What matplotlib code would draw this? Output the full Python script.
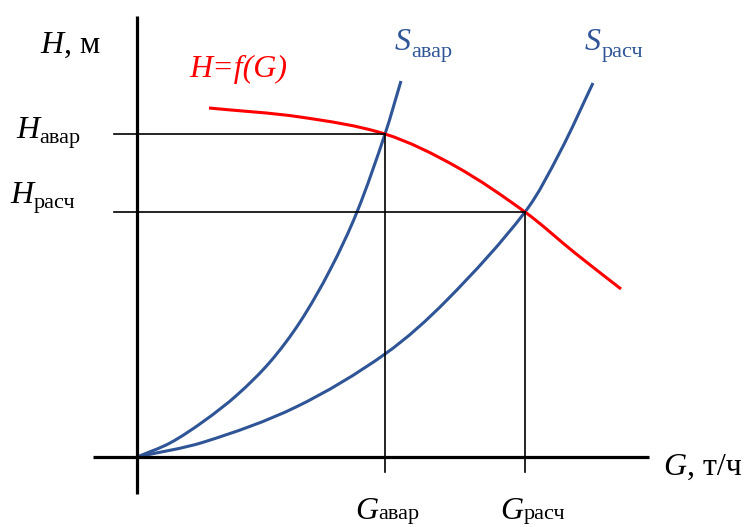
import numpy as np
import matplotlib.pyplot as plt
from matplotlib.path import Path
from matplotlib.patches import PathPatch

plt.rcParams['font.family'] = ['Liberation Serif', 'DejaVu Serif']

# pump curve H = f(G)
pump_G = [1.44, 3.26, 4.96, 6.36, 7.76, 8.76, 9.68]
pump_H = [8.725, 8.5, 8.075, 7.275, 6.125, 5.1, 4.2]

# network curve, emergency mode
avar_G = [0, 0.66, 1.34, 2.0, 2.66, 3.26, 3.86, 4.4, 4.96, 5.28]
avar_H = [0, 0.35, 0.9, 1.55, 2.375, 3.375, 4.675, 6.125, 8.075, 9.4]

# network curve, design mode
rasch_G = [0, 1.34, 3.18, 4.96, 6.2, 7.76, 8.46, 9.12]
rasch_H = [0, 0.375, 1.25, 2.575, 3.925, 6.125, 7.625, 9.35]

# operating points
G_avar, H_avar = 4.96, 8.075
G_rasch, H_rasch = 7.76, 6.125

red = '#ff0000'
blue = '#2f5597'

fig = plt.figure(figsize=(7.47, 5.27), dpi=100)
ax = fig.add_axes([0, 0, 1, 1])
ax.set_xlim(-2.74, 12.2)
ax.set_ylim(-1.75, 11.425)
ax.axis('off')


def smooth_curve(xs, ys, color):
    # bezier segments through the read points, tangents scaled by chord length
    p = np.column_stack([xs, ys]).astype(float)
    seg = np.hypot(np.diff(p[:, 0]) * 50, np.diff(p[:, 1]) * 40)
    t = np.concatenate([[0], np.cumsum(seg)])
    n = len(p)
    m = np.zeros_like(p)
    for i in range(n):
        a, b = max(i - 1, 0), min(i + 1, n - 1)
        m[i] = (p[b] - p[a]) / (t[b] - t[a])
    verts = [p[0]]
    codes = [Path.MOVETO]
    for i in range(n - 1):
        h = t[i + 1] - t[i]
        verts += [p[i] + m[i] * h / 3, p[i + 1] - m[i + 1] * h / 3, p[i + 1]]
        codes += [Path.CURVE4] * 3
    ax.add_patch(PathPatch(Path(verts, codes), fill=False, edgecolor=color,
                           lw=2.2, capstyle='butt'))


# axes of the diagram
ax.plot([0, 0], [-0.925, 11.025], color='black', lw=2.3, solid_capstyle='butt')
ax.plot([-0.88, 10.24], [0, 0], color='black', lw=2.3, solid_capstyle='butt')

# guide lines to the operating points
ax.plot([-0.46, G_avar], [H_avar, H_avar], color='black', lw=1.2)
ax.plot([-0.46, G_rasch], [H_rasch, H_rasch], color='black', lw=1.2)
ax.plot([G_avar, G_avar], [-0.375, H_avar], color='black', lw=1.2)
ax.plot([G_rasch, G_rasch], [-0.375, H_rasch], color='black', lw=1.2)

smooth_curve(avar_G, avar_H, blue)
smooth_curve(rasch_G, rasch_H, blue)
smooth_curve(pump_G, pump_H, red)


def label(x, y, main, sub, color='black', size=23, subsize=16, dy=-2.0):
    t = ax.text(x, y, main, color=color, fontsize=size, style='italic', va='baseline')
    ax.annotate(sub, xy=(1, 0), xycoords=t, xytext=(0.3, dy), textcoords='offset points',
                color=color, fontsize=subsize, va='bottom', ha='left')


label(-1.94, 10.1, 'H', ', м', subsize=23, dy=0)
ax.text(1.04, 9.5, 'H=f(G)', fontsize=23, style='italic', color=red, va='baseline')

label(-2.42, 7.975, 'H', 'авар')
label(-2.54, 6.35, 'H', 'расч')
label(5.16, 10.175, 'S', 'авар', color=blue, dy=-3.5)
label(8.96, 10.175, 'S', 'расч', color=blue, dy=-3.5)
label(4.36, -1.55, 'G', 'авар', dy=1.5)
label(7.26, -1.55, 'G', 'расч', dy=1.5)
label(10.52, -0.45, 'G', ', т/ч', subsize=23, dy=0)

fig.savefig('out.png', dpi=100)
